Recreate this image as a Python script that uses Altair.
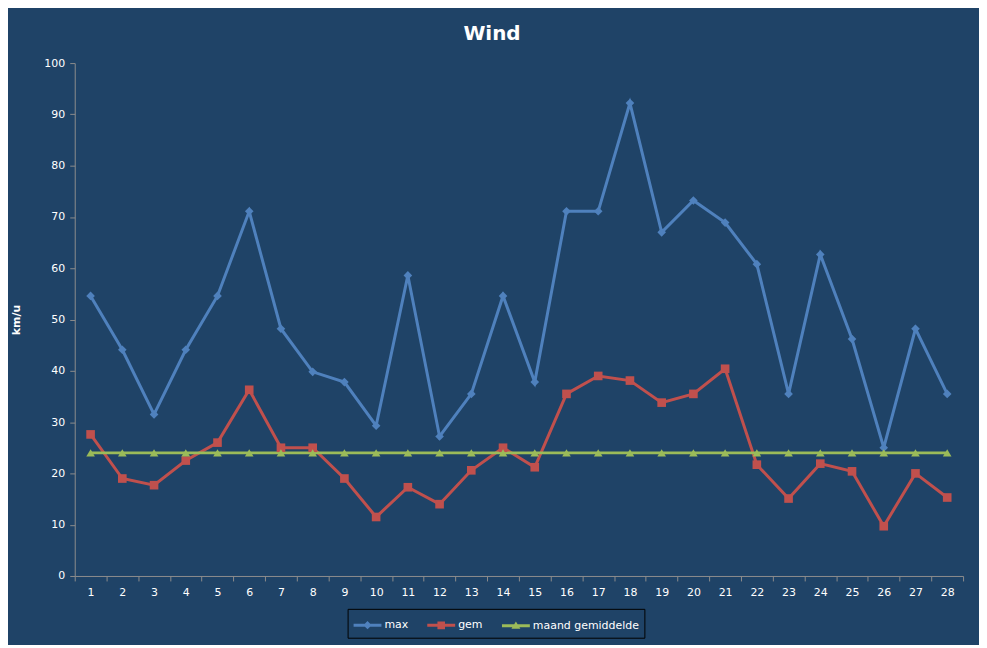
import altair as alt
import pandas as pd

days = list(range(1, 29))
wind_max = [54.6, 44.1, 31.5, 44.1, 54.6, 71.1, 48.2, 39.8, 37.8, 29.3,
            58.6, 27.2, 35.5, 54.6, 37.8, 71.1, 71.1, 92.2, 67.0, 73.2,
            68.9, 60.8, 35.5, 62.7, 46.2, 25.0, 48.2, 35.5]
wind_gem = [27.6, 19.0, 17.7, 22.5, 26.0, 36.3, 25.0, 25.0, 19.0, 11.5,
            17.3, 14.0, 20.6, 25.0, 21.2, 35.5, 39.0, 38.1, 33.8, 35.5,
            40.4, 21.7, 15.1, 21.9, 20.4, 9.7, 20.0, 15.3]
wind_maand = [24.0] * 28

series_names = ["max", "gem", "maand gemiddelde"]
series_colors = ["#4F81BD", "#C0504D", "#9BBB59"]

rows = []
for name, vals in zip(series_names, [wind_max, wind_gem, wind_maand]):
    for d, v in zip(days, vals):
        rows.append({"dag": str(d), "serie": name, "waarde": v})
df = pd.DataFrame(rows)

font = "DejaVu Sans"
day_order = [str(d) for d in days]

# legend symbols: short line with the marker on it (wider than the symbol box)
bar = "M-1.4,-0.15H1.4V0.15H-1.4Z"
legend_paths = [
    bar + "M0,-0.42L0.42,0L0,0.42L-0.42,0Z",
    bar + "M-0.38,-0.38H0.38V0.38H-0.38Z",
    bar + "M0,-0.42L0.45,0.32H-0.45Z",
]

x = alt.X("dag:N", sort=day_order, title=None,
          scale=alt.Scale(paddingInner=0, paddingOuter=0),
          axis=alt.Axis(labelAngle=0, tickBand="extent", labelPadding=6,
                        tickSize=5))
y = alt.Y("waarde:Q", title="km/u",
          scale=alt.Scale(domain=[0, 100], nice=False),
          axis=alt.Axis(values=list(range(0, 101, 10)), grid=False,
                        tickSize=5, labelPadding=5, titlePadding=22))

base = alt.Chart(df)
lines = base.mark_line(strokeWidth=3).encode(
    x=x, y=y,
    color=alt.Color("serie:N", scale=alt.Scale(domain=series_names, range=series_colors),
                    legend=None))
points = base.mark_point(filled=True, opacity=1, size=75).encode(
    x=x, y=y,
    color=alt.Color("serie:N", scale=alt.Scale(domain=series_names, range=series_colors),
                    legend=None),
    shape=alt.Shape("serie:N", scale=alt.Scale(domain=series_names,
                                               range=["diamond", "square", "triangle-up"]),
                    legend=None),
)

legend_props = dict(
    title=None, orient="none", legendX=274, legendY=548,
    direction="horizontal", strokeColor="#000000", padding=5,
    symbolSize=400, symbolOpacity=1, symbolOffset=4, columnPadding=16,
    labelColor="white", labelFont=font, labelFontSize=11, labelOffset=6,
)
legend_layer = base.mark_point(filled=True, opacity=0, size=1).encode(
    x=x, y=y,
    color=alt.Color("serie:N", scale=alt.Scale(domain=series_names, range=series_colors),
                    legend=alt.Legend(**legend_props)),
    shape=alt.Shape("serie:N", scale=alt.Scale(domain=series_names, range=legend_paths),
                    legend=alt.Legend(**legend_props)),
)

chart = (
    alt.layer(lines, points, legend_layer)
    .resolve_scale(shape="independent", color="independent")
    .properties(
        width=892, height=515,
        autosize=alt.AutoSizeParams(type="none"),
        padding={"left": 67, "top": 54, "right": 16, "bottom": 68},
        background="#1F4367",
        title=alt.TitleParams("Wind", fontSize=20, font=font, fontWeight="bold",
                              color="white", offset=13, dx=-27),
    )
    .configure_view(stroke=None)
    .configure_axis(
        domainColor="#8C8C8C", tickColor="#8C8C8C", labelColor="white",
        labelFont=font, labelFontSize=11, titleColor="white", titleFont=font,
        titleFontSize=11, titleFontWeight="bold",
    )
)

chart.save("out.html", embed_options={"renderer": "svg", "actions": False})
